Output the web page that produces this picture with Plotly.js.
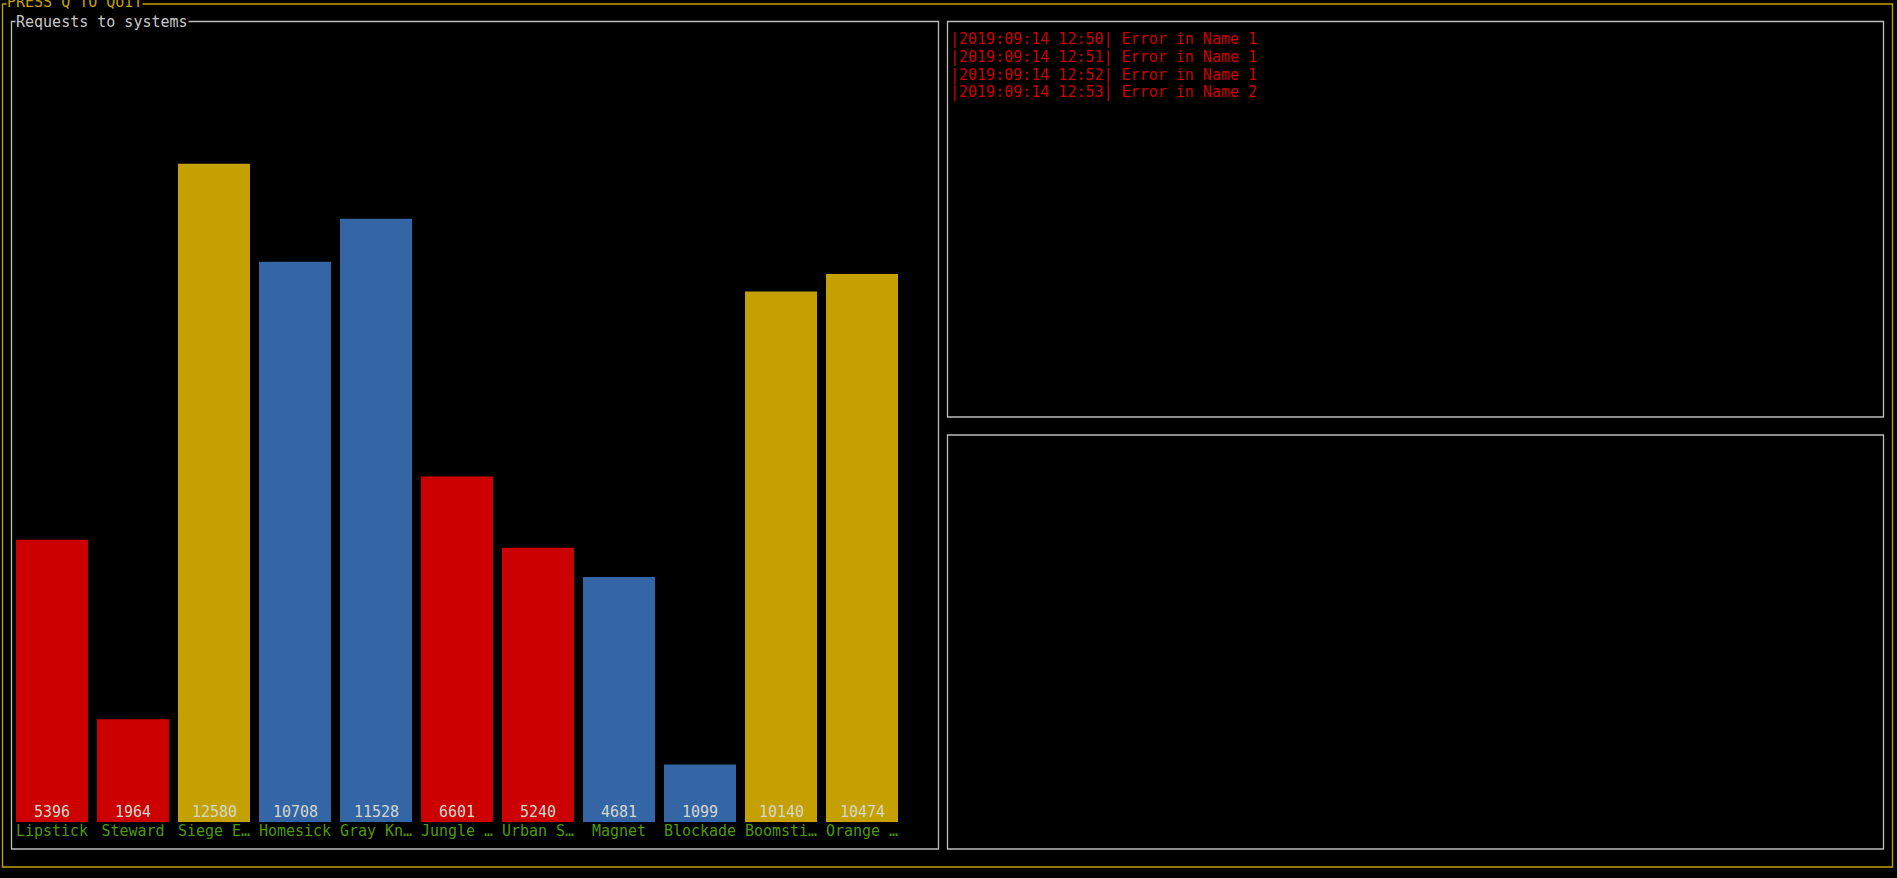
<!DOCTYPE html>
<html>
<head>
<meta charset="utf-8">
<script src="https://cdn.plot.ly/plotly-3.0.1.min.js"></script>
<style>
html,body{margin:0;padding:0;background:#000;overflow:hidden;}
#chart{width:1897px;height:878px;}
</style>
</head>
<body>
<div id="chart"></div>
<script>
// ---- data ----
const categories = ["Lipstick", "Steward", "Siege E…", "Homesick", "Gray Kn…", "Jungle …", "Urban S…", "Magnet", "Blockade", "Boomsti…", "Orange …"];
const requests = [5396, 1964, 12580, 10708, 11528, 6601, 5240, 4681, 1099, 10140, 10474];
const barColors = ["#cc0000", "#cc0000", "#c4a000", "#3465a4", "#3465a4", "#cc0000", "#cc0000", "#3465a4", "#3465a4", "#c4a000", "#c4a000"];
const logLines = [
  "|2019:09:14 12:50| Error in Name 1",
  "|2019:09:14 12:51| Error in Name 1",
  "|2019:09:14 12:52| Error in Name 1",
  "|2019:09:14 12:53| Error in Name 2"
];
const outerTitle = "PRESS Q TO QUIT";
const chartTitle = "Requests to systems";

// ---- layout helpers (page pixels -> paper fractions) ----
const W = 1897, H = 878;
const px = x => x / W;
const py = y => 1 - y / H;
const FONT = "DejaVu Sans Mono, monospace";
const GRAY = "#bcbcbc";
const YEL = "#c4a000";

function box(x0, y0, x1, y1, color) {
  return {type: "rect", xref: "paper", yref: "paper",
    x0: px(x0), x1: px(x1), y0: py(y1), y1: py(y0),
    line: {color: color, width: 1.3}, fillcolor: "rgba(0,0,0,0)", layer: "below"};
}

const shapes = [
  box(2.5, 4, 1892.5, 867, YEL),
  box(11.5, 21.5, 938.5, 849, GRAY),
  box(947.5, 21.5, 1883.5, 417, GRAY),
  box(947.5, 435, 1883.5, 849, GRAY)
];

const annotations = [
  {text: outerTitle, xref: "paper", yref: "paper", x: px(6), y: py(2.5),
   xanchor: "left", yanchor: "middle", showarrow: false, bgcolor: "#000", borderpad: 0,
   font: {family: FONT, size: 15, color: YEL}},
  {text: chartTitle, xref: "paper", yref: "paper", x: px(15), y: py(21.5),
   xanchor: "left", yanchor: "middle", showarrow: false, bgcolor: "#000", borderpad: 0,
   font: {family: FONT, size: 15, color: "#c8c8c8"}}
];
logLines.forEach((t, i) => {
  annotations.push({text: t, xref: "paper", yref: "paper", x: px(948.5), y: py(38.5 + 18 * i),
    xanchor: "left", yanchor: "middle", showarrow: false, borderpad: 0,
    font: {family: FONT, size: 15, color: "#cc0000"}});
});
// value labels sitting at the base of each bar
categories.forEach((c, i) => {
  annotations.push({text: String(requests[i]), xref: "x", yref: "y", x: c, y: 0,
    xanchor: "center", yanchor: "bottom", yshift: 0, showarrow: false, borderpad: 0,
    font: {family: FONT, size: 15, color: "#d3d7cf"}});
});

const trace = {
  type: "bar",
  x: categories,
  y: requests,
  marker: {color: barColors, line: {width: 0}},
  hoverinfo: "none"
};

const layout = {
  width: W, height: H, autosize: false,
  margin: {l: 0, r: 0, t: 0, b: 0, pad: 0},
  paper_bgcolor: "#000", plot_bgcolor: "#000",
  showlegend: false,
  bargap: 9 / 81,
  xaxis: {
    domain: [px(11.5), px(902.5)],
    type: "category",
    categoryorder: "array", categoryarray: categories,
    range: [-0.5, 10.5],
    showgrid: false, zeroline: false, showline: false, ticks: "",
    tickfont: {family: FONT, size: 15, color: "#4e9a06"},
    tickangle: 0,
    ticklabelstandoff: -2,
    fixedrange: true
  },
  yaxis: {
    domain: [py(822), py(22)],
    range: [0, 15290],
    showgrid: false, zeroline: false, showline: false, showticklabels: false, ticks: "",
    fixedrange: true
  },
  shapes: shapes,
  annotations: annotations
};

Plotly.newPlot("chart", [trace], layout, {displayModeBar: false, staticPlot: true});
</script>
</body>
</html>
